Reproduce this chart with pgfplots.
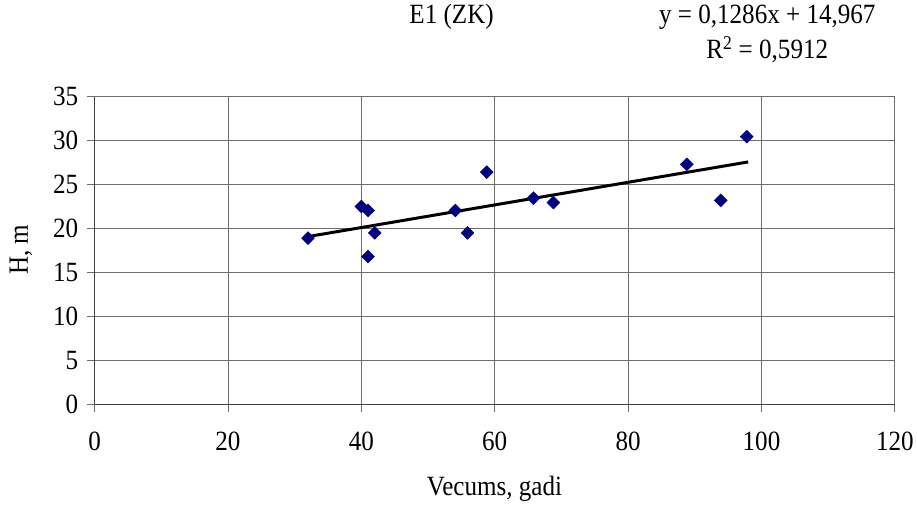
\documentclass[border=0pt]{standalone}
\usepackage{fontspec}
\setmainfont[FakeStretch=0.9]{Liberation Serif}
\usepackage{pgfplots}
\pgfplotsset{compat=1.18}
\definecolor{marknavy}{RGB}{0,0,128}
\definecolor{gridgray}{RGB}{110,110,110}
\newcommand{\chartfont}{\fontsize{28}{32}\selectfont}
\begin{document}
\begin{tikzpicture}
  \begin{axis}[
      at={(0,0)}, anchor=south west,
      scale only axis,
      width=801bp, height=308bp,
      xmin=0, xmax=120, ymin=0, ymax=35,
      xtick={0,20,...,120},
      ytick={0,5,...,35},
      axis x line*=bottom,
      axis y line*=left,
      axis line style={draw=black!75, line width=1.2pt, -},
      grid=major,
      major grid style={draw=gridgray, line width=0.9pt},
      tick style={draw=gridgray, line width=0.9pt},
      tick align=outside,
      major tick length=8bp,
      /pgf/number format/assume math mode=true,
      ticklabel style={font=\chartfont},
      yticklabel style={xshift=-5bp},
      xticklabel style={yshift=-16bp},
      clip=false,
    ]
    % trend line y = 0,1286x + 14,967
    \addplot[black, line width=3pt] coordinates {
      (32,19.08) (98,27.57)
    };
    \addplot[only marks, mark=diamond*, mark size=6.5bp,
             mark options={fill=marknavy, draw=marknavy, xscale=1.33}] table {
      x     y
      32    18.9
      40    22.5
      41    22.05
      42    19.5
      41    16.8
      54.1  22.05
      55.9  19.5
      58.8  26.4
      65.8  23.45
      68.8  22.95
      88.8  27.3
      93.9  23.2
      97.8  30.45
    };
  \end{axis}
  \node[font=\chartfont] at (357.3bp,387.7bp) {E1 (ZK)};
  \node[font=\chartfont] at (673.3bp,387.7bp) {y = 0,1286x + 14,967};
  \node[font=\chartfont] at (673.3bp,354.7bp) {R\textsuperscript{2} = 0,5912};
  \node[font=\chartfont] at (400.3bp,-84.3bp) {Vecums, gadi};
  \node[font=\chartfont, rotate=90] at (-73.7bp,154.7bp) {H, m};
  \useasboundingbox (-94.7bp,-101.3bp) rectangle (822.3bp,404.7bp);
\end{tikzpicture}
\end{document}
